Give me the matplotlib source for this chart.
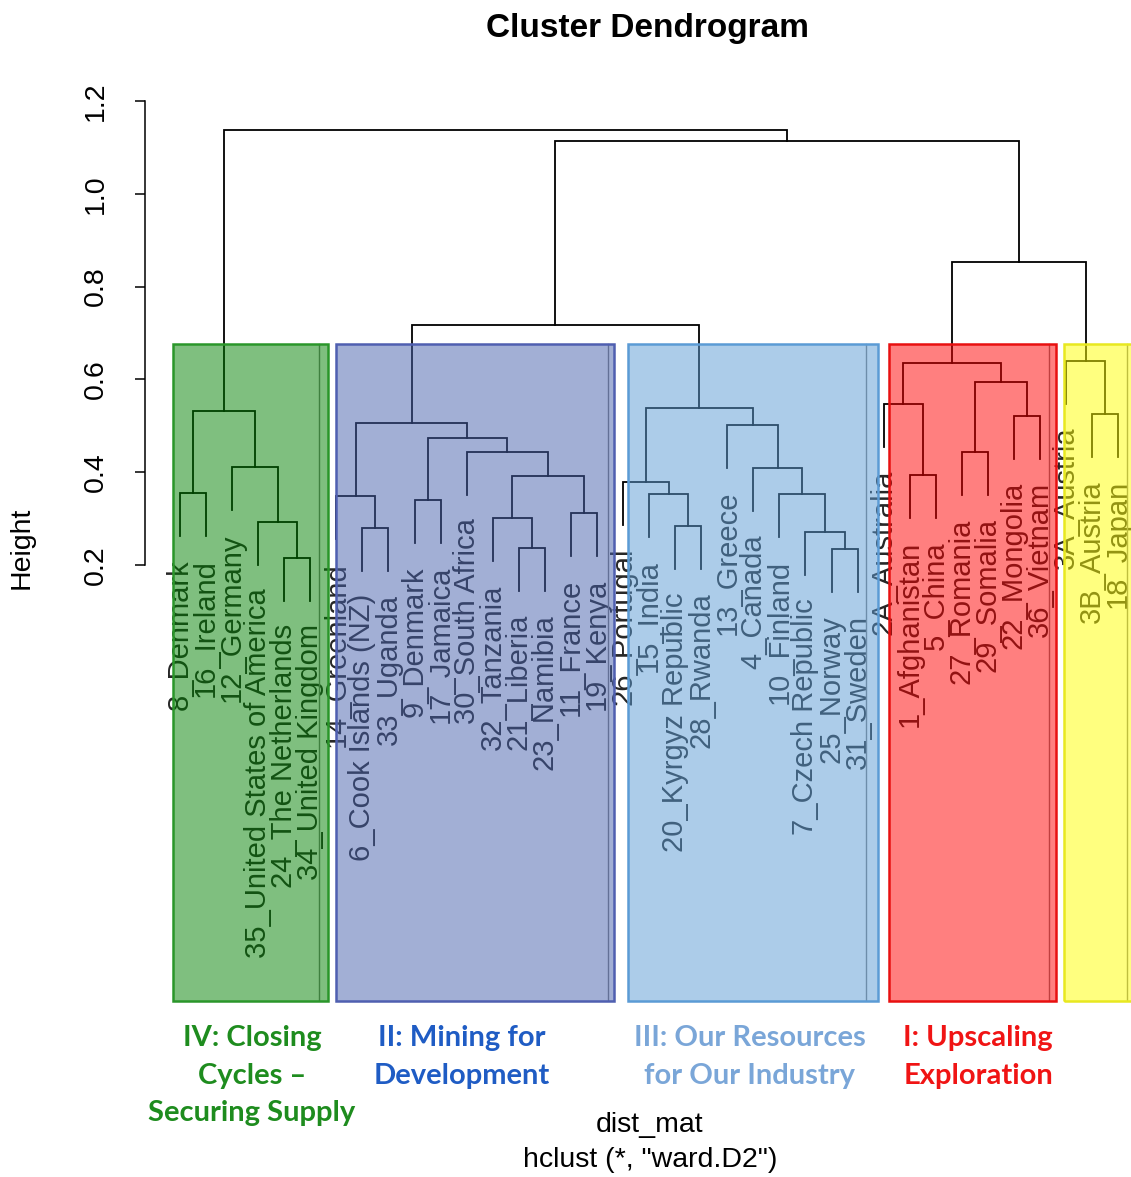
"""Cluster dendrogram (ward.D2) with coloured cluster boxes, redrawn from the figure."""
import matplotlib
matplotlib.use("Agg")
import matplotlib.pyplot as plt
from matplotlib.patches import Rectangle

# leaf order left to right, as drawn
leaves = ["8_Denmark", "16_Ireland", "12_Germany", "35_United States of America",
          "24_The Netherlands", "34_United Kingdom",
          "14_Greenland", "6_Cook Islands (NZ)", "33_Uganda", "9_Denmark", "17_Jamaica",
          "30_South Africa", "32_Tanzania", "21_Liberia", "23_Namibia", "11_France", "19_Kenya",
          "26_Portugal", "15_India", "20_Kyrgyz Republic", "28_Rwanda", "13_Greece", "4_Canada",
          "10_Finland", "7_Czech Republic", "25_Norway", "31_Sweden",
          "2A_Australia", "1_Afghanistan", "5_China", "27_Romania", "29_Somalia",
          "22_Mongolia", "36_Vietnam",
          "3A_Austria", "3B_Austria", "18_Japan"]

# merges: (left, right, height); str = leaf, int = earlier merge
merges = [
    ("24_The Netherlands", "34_United Kingdom", 0.215),
    ("35_United States of America", 0, 0.293),
    ("12_Germany", 1, 0.411),
    ("8_Denmark", "16_Ireland", 0.355),
    (3, 2, 0.532),
    ("6_Cook Islands (NZ)", "33_Uganda", 0.280),
    ("14_Greenland", 5, 0.349),
    ("9_Denmark", "17_Jamaica", 0.340),
    ("21_Liberia", "23_Namibia", 0.237),
    ("32_Tanzania", 8, 0.301),
    ("11_France", "19_Kenya", 0.312),
    (9, 10, 0.392),
    ("30_South Africa", 11, 0.444),
    (7, 12, 0.474),
    (6, 13, 0.506),
    ("20_Kyrgyz Republic", "28_Rwanda", 0.284),
    ("15_India", 15, 0.353),
    ("26_Portugal", 16, 0.379),
    ("25_Norway", "31_Sweden", 0.234),
    ("7_Czech Republic", 18, 0.271),
    ("10_Finland", 19, 0.353),
    ("4_Canada", 20, 0.409),
    ("13_Greece", 21, 0.502),
    (17, 22, 0.538),
    (14, 23, 0.717),
    ("1_Afghanistan", "5_China", 0.394),
    ("2A_Australia", 25, 0.547),
    ("27_Romania", "29_Somalia", 0.443),
    ("22_Mongolia", "36_Vietnam", 0.521),
    (27, 28, 0.594),
    (26, 29, 0.635),
    ("3B_Austria", "18_Japan", 0.525),
    ("3A_Austria", 31, 0.640),
    (30, 32, 0.853),
    (24, 33, 1.114),
    (4, 34, 1.1375),
]

# coloured boxes laid over the tree (leaf units)
box_left = [-0.27, 5.99, 17.19, 27.19, 33.92]
box_right = [5.69, 16.65, 26.77, 33.60, 37.2]
box_top = 0.676
box_fill = ["#008000", "#4761ad", "#5b9bd5", "#ff0000", "#ffff00"]
box_edge = ["#2a962a", "#4f5fb0", "#5b9bd5", "#e81010", "#e8e820"]
inner_lines = [5.33, 16.42, 26.33, 33.33, 36.33]

group_text = ["IV: Closing\nCycles \u2013\nSecuring Supply", "II: Mining for\nDevelopment",
              "III: Our Resources\nfor Our Industry", "I: Upscaling\nExploration"]
group_x = [252, 462, 750, 978]
group_color = ["#1e8c1e", "#1f5cc4", "#7aa6d8", "#f01414"]

W, H = 1131, 1177
fig = plt.figure(figsize=(W / 100, H / 100), dpi=100)
ax = fig.add_axes([145 / W, 1 - 1002 / H, (W - 145) / W, (1002 - 96) / H])
ax.set_xlim((145 - 180) / 26.06, (W - 180) / 26.06)
ax.set_ylim(0.2 - (1002 - 565) / 464, 0.2 + (565 - 96) / 464)

RFONT = "Liberation Sans"
heights = [m[2] for m in merges]
hang = 0.1 * (max(heights) - min(heights))
xpos = {name: i for i, name in enumerate(leaves)}
mx = []
for a, b, h in merges:
    xs, tops = [], []
    for c in (a, b):
        if isinstance(c, str):
            xs.append(xpos[c])
            tops.append(h - hang)
            ax.text(xpos[c], h - hang - 0.05, c, rotation=90, ha="center", va="top",
                    fontsize=21, family=RFONT, color="#262626", zorder=2)
        else:
            xs.append(mx[c])
            tops.append(merges[c][2])
    ax.plot([xs[0], xs[0], xs[1], xs[1]], [tops[0], h, h, tops[1]], color="black", lw=1.3,
            solid_joinstyle="miter", zorder=1)
    mx.append((xs[0] + xs[1]) / 2)

ybot = ax.get_ylim()[0]
for xl in inner_lines:
    ax.plot([xl, xl], [ybot, box_top], color="#808080", lw=1, zorder=2.5)
for l, r, fc, ec in zip(box_left, box_right, box_fill, box_edge):
    ax.add_patch(Rectangle((l, ybot), r - l, box_top - ybot, facecolor=fc, alpha=0.5,
                           edgecolor="none", zorder=3, clip_on=False))
    ax.add_patch(Rectangle((l, ybot + 0.003), r - l, box_top - ybot - 0.003, facecolor="none",
                           edgecolor=ec, lw=1.8, zorder=4, clip_on=False))

for s in ["top", "right", "bottom"]:
    ax.spines[s].set_visible(False)
ax.spines["left"].set_bounds(0.2, 1.2)
ax.spines["left"].set_linewidth(1.1)
ax.set_xticks([])
ax.set_yticks([0.2, 0.4, 0.6, 0.8, 1.0, 1.2])
ax.set_yticklabels(["0.2", "0.4", "0.6", "0.8", "1.0", "1.2"], rotation=90, va="center",
                   fontsize=20.5, family=RFONT)
ax.tick_params(axis="y", length=7, width=1.1, pad=19)

fig.text(648 / W, 1 - 29 / H, "Cluster Dendrogram", ha="center", va="center",
         fontsize=24, fontweight="bold", family=RFONT)
fig.text(22 / W, 1 - 548 / H, "Height", rotation=90, ha="center", va="center",
         fontsize=20.5, family=RFONT)
fig.text(650 / W, 1 - 1125 / H, "dist_mat", ha="center", va="center", fontsize=20.5, family=RFONT)
fig.text(650 / W, 1 - 1160 / H, 'hclust (*, "ward.D2")', ha="center", va="center",
         fontsize=20.5, family=RFONT)
for t, gx, gc in zip(group_text, group_x, group_color):
    fig.text(gx / W, 1 - 1025 / H, t, ha="center", va="top", fontsize=21, fontweight="bold",
             family="Lato", color=gc, linespacing=1.55)

fig.savefig("out.png", dpi=100)
